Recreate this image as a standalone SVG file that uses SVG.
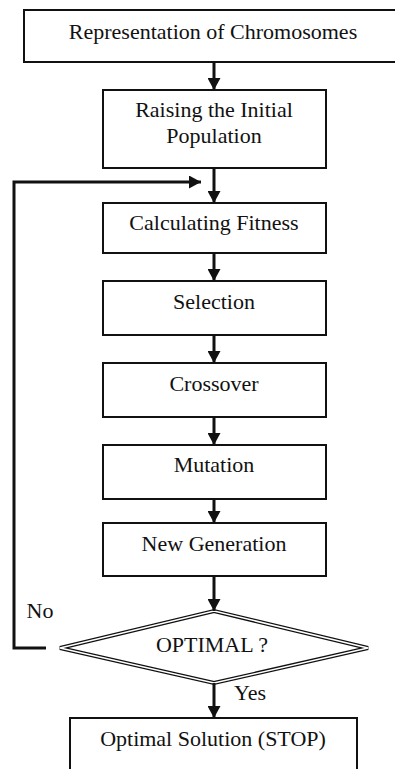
<svg xmlns="http://www.w3.org/2000/svg" width="395" height="769" viewBox="0 0 395 769">
<style>
.box{fill:#fff;stroke:#111;stroke-width:2}
.t{font-family:"Liberation Serif","Times New Roman",serif;font-size:22px;fill:#111;text-anchor:middle}
.c{stroke:#111;stroke-width:3;fill:none}
</style>
<defs>
<marker id="ah" markerWidth="12" markerHeight="13" viewBox="0 0 12 13" refX="12" refY="6.5" orient="auto" markerUnits="userSpaceOnUse">
<path d="M0,0 L12,6.5 L0,13 Z" fill="#111"/>
</marker>
</defs>
<rect width="395" height="769" fill="#fff"/>
<g id="n1"><rect class="box" x="24" y="10" width="380" height="52"/><text class="t" x="213" y="39">Representation of Chromosomes</text></g>
<g id="n2"><rect class="box" x="103" y="90" width="223" height="78"/><text class="t" x="214" y="117">Raising the Initial</text><text class="t" x="214" y="143">Population</text></g>
<g id="n3"><rect class="box" x="103" y="203" width="223" height="50"/><text class="t" x="214" y="230">Calculating Fitness</text></g>
<g id="n4"><rect class="box" x="103" y="281" width="223" height="54"/><text class="t" x="214" y="309">Selection</text></g>
<g id="n5"><rect class="box" x="103" y="363" width="223" height="54"/><text class="t" x="214" y="391">Crossover</text></g>
<g id="n6"><rect class="box" x="103" y="445" width="223" height="54"/><text class="t" x="214" y="472">Mutation</text></g>
<g id="n7"><rect class="box" x="103" y="523" width="223" height="53"/><text class="t" x="214" y="551">New Generation</text></g>
<g id="n8"><polygon points="60,648 214,611 368,648 214,683" fill="#fff" stroke="#111" stroke-width="4"/><polygon points="60,648 214,611 368,648 214,683" fill="none" stroke="#fff" stroke-width="1.5"/><text class="t" x="212" y="652">OPTIMAL ?</text></g>
<g id="n9"><rect class="box" x="70" y="718" width="287" height="60"/><text class="t" x="213" y="746">Optimal Solution (STOP)</text></g>
<g id="connectors">
<line class="c" x1="214" y1="62" x2="214" y2="90" marker-end="url(#ah)"/>
<line class="c" x1="214" y1="168" x2="214" y2="203" marker-end="url(#ah)"/>
<line class="c" x1="214" y1="253" x2="214" y2="281" marker-end="url(#ah)"/>
<line class="c" x1="214" y1="335" x2="214" y2="363" marker-end="url(#ah)"/>
<line class="c" x1="214" y1="417" x2="214" y2="445" marker-end="url(#ah)"/>
<line class="c" x1="214" y1="499" x2="214" y2="523" marker-end="url(#ah)"/>
<line class="c" x1="214" y1="576" x2="214" y2="611" marker-end="url(#ah)"/>
<line class="c" x1="214" y1="683" x2="214" y2="718" marker-end="url(#ah)"/>
<polyline class="c" points="46,648 14,648 14,182 201,182" marker-end="url(#ah)"/>
<text class="t" x="40" y="618">No</text>
<text class="t" x="250" y="700">Yes</text>
</g>
</svg>
